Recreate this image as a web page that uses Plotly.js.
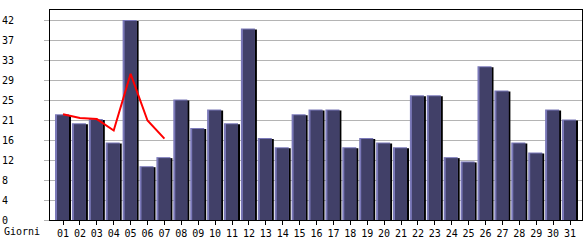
<!DOCTYPE html>
<html><head><meta charset="utf-8">
<script src="https://cdn.plot.ly/plotly-3.0.1.min.js"></script>
<style>html,body{margin:0;padding:0;background:#fff}#c{width:585px;height:240px}</style>
</head><body><div id="c"></div>
<script>
var days = ['01','02','03','04','05','06','07','08','09','10','11','12','13','14','15','16','17','18','19','20','21','22','23','24','25','26','27','28','29','30','31'];
var visits = [22.2,20.3,21.2,16.3,42,11.3,13.2,25.3,19.3,23.2,20.3,40.2,17.2,15.3,22.2,23.2,23.2,15.3,17.2,16.3,15.3,26.2,26.2,13.2,12.3,32.3,27.2,16.3,14.2,23.2,21.1];
var trendDays = ['01','02','03','04','05','06','07'];
var trend = [22.2,21.4,21.2,18.8,30.7,20.9,17.1];
var yTickVals = [0,4.2,8.4,12.6,16.8,21,25.2,29.4,33.6,37.8,42];
var yTickText = ['0','4','8','12','16','21','25','29','33','37','42'];

var XR = [-0.77, 30.71], YR = [0, 44.1];
var W = 532, H = 210;
var xp = (XR[1]-XR[0])/W, yp = (YR[1]-YR[0])/H;
var font = {family:'DejaVu Sans Mono, monospace', size:10, color:'#000'};

var shadow = {type:'bar', x:days, y:visits.map(function(v){return v-yp;}), offset:-6*xp, width:14*xp,
  marker:{color:'#000', line:{width:0}}, hoverinfo:'skip'};
var light = {type:'bar', x:days, y:visits, offset:-8*xp, width:14*xp,
  marker:{color:'#7a78b8', line:{width:0}}, hoverinfo:'skip'};
var fill = {type:'bar', x:days, y:visits.map(function(v){return v-yp;}), offset:-6*xp, width:12*xp,
  marker:{color:'#414068', line:{width:0}}};
var line = {type:'scatter', mode:'lines', x:trendDays, y:trend, line:{color:'#ff0000', width:2}};

var layout = {
  width:585, height:240, margin:{l:50, r:3, t:10, b:20},
  paper_bgcolor:'#fff', plot_bgcolor:'#fff', showlegend:false, barmode:'overlay',
  font:font,
  xaxis:{type:'category', range:XR, showgrid:false, showline:true, linecolor:'#000', linewidth:1, mirror:true,
    ticks:'outside', ticklen:4, tickcolor:'#000', tickfont:font, zeroline:false, fixedrange:true},
  yaxis:{range:YR, tickmode:'array', tickvals:yTickVals,
    ticktext:yTickText.map(function(t){return t.length<2 ? t+'\u00a0' : t;}),
    showgrid:true, gridcolor:'#b4b4b4', gridwidth:1, showline:true, linecolor:'#000', linewidth:1, mirror:true,
    ticks:'outside', ticklen:5, tickcolor:'#b4b4b4', tickfont:font, ticklabelstandoff:28, zeroline:false},
  annotations:[{text:'Giorni', xref:'paper', yref:'paper', x:-48/532, y:-11/210, xanchor:'left', yanchor:'middle',
    showarrow:false, font:font}]
};
Plotly.newPlot('c', [shadow, light, fill, line], layout, {staticPlot:true});
</script></body></html>
